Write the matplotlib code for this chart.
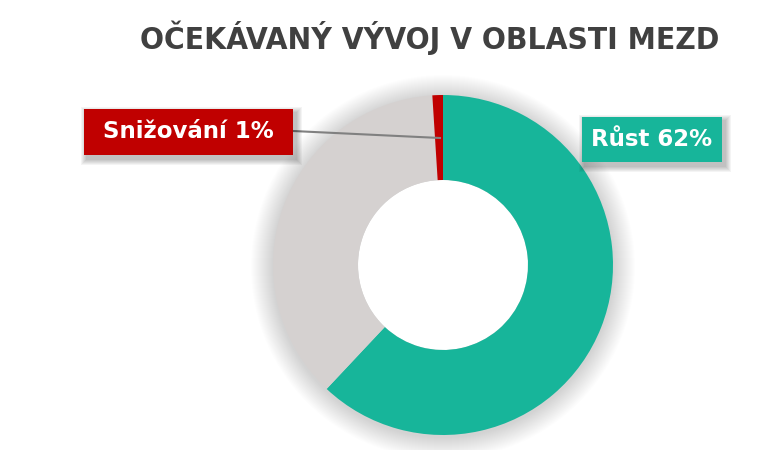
#!/usr/bin/env python3

import matplotlib.pyplot as plt
from matplotlib.patches import Circle, Rectangle

labels = ["Růst", "Ostatní", "Snižování"]
values = [62, 37, 1]
colors = ["#17B59A", "#D5D1D0", "#C00000"]
shown = ["Růst 62%", None, "Snižování 1%"]

W, H = 772, 450
fig = plt.figure(figsize=(W / 100, H / 100), dpi=100)
ax = fig.add_axes([0, 0, 1, 1])
ax.set_xlim(0, W)
ax.set_ylim(0, H)
ax.set_aspect("equal")
ax.axis("off")

cx, cy, r = 443, H - 265, 170

# soft shadow behind the ring
for i in range(22):
    ax.add_patch(Circle((cx, cy - 2), r + 22 - i, color="black",
                        alpha=0.007, lw=0, zorder=0))

wedges, _ = ax.pie(values, colors=colors, startangle=90, counterclock=False,
                   radius=r, center=(cx, cy),
                   wedgeprops=dict(width=85, linewidth=0))
for w in wedges:
    w.set_zorder(2)
ax.add_patch(Circle((cx, cy), 85, color="white", lw=0, zorder=1.5))

ax.set_xlim(0, W)
ax.set_ylim(0, H)

# title - condensed look, sized to fit the same width as the original
title = fig.text(430 / W, 1 - 38 / H, "OČEKÁVANÝ VÝVOJ V OBLASTI MEZD",
                 ha="center", va="center", fontsize=25, fontweight="bold",
                 color="#404040", family="DejaVu Sans", fontstretch="condensed")
fig.canvas.draw()
tw = title.get_window_extent().width
title.set_fontsize(25 * 580 / tw)

# leader line for the small slice
ax.plot([293, 440], [H - 131, H - 138], color="#808080", lw=1.5, zorder=3)


def label_box(x0, y0, x1, y1, text, color):
    w, h = x1 - x0, y1 - y0
    for k in range(6):
        g = 6 - k
        ax.add_patch(Rectangle((x0 + 3 - g, H - y1 - 4 - g), w + 2 * g, h + 2 * g,
                               color="black", alpha=0.045, lw=0, zorder=3))
    ax.add_patch(Rectangle((x0, H - y1), w, h, color=color, lw=0, zorder=4))
    ax.text((x0 + x1) / 2, H - (y0 + y1) / 2, text, ha="center", va="center",
            fontsize=16.5, fontweight="bold", color="white", zorder=5)


label_box(84, 109, 293, 155, shown[2], colors[2])
label_box(582, 117, 722, 162, shown[0], colors[0])

fig.savefig("out.png", dpi=100)
